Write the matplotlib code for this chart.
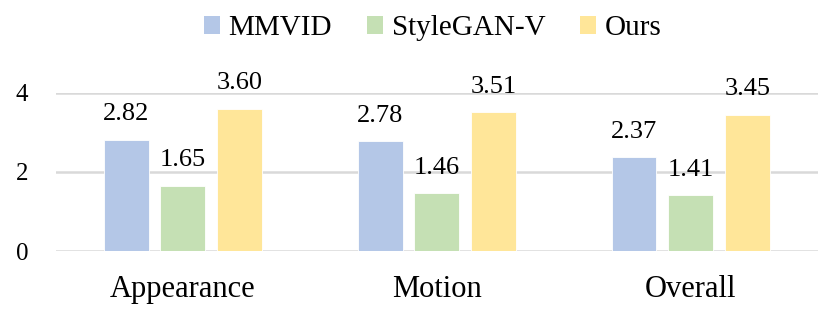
import matplotlib

matplotlib.use("Agg")
import matplotlib.pyplot as plt
import numpy as np
from matplotlib.patches import Patch

CATEGORIES = ["Appearance", "Motion", "Overall"]
SERIES = ["MMVID", "StyleGAN-V", "Ours"]
MMVID = [2.82, 2.78, 2.37]
STYLEGAN_V = [1.65, 1.46, 1.41]
OURS = [3.60, 3.51, 3.45]
YTICKS = [0, 2, 4]

COLOURS = ["#B4C7E7", "#C5E0B4", "#FFE699"]

plt.rcParams.update({
    "font.family": ["Liberation Serif", "DejaVu Serif"],
    "mathtext.fontset": "stix",
})

fig = plt.figure(figsize=(8.32, 3.13), dpi=100)
ax = fig.add_axes([0.0673, 0.198, 0.9157, 0.505])

x = np.arange(len(CATEGORIES))
width = 0.177
step = 0.224
for i, (vals, col) in enumerate(zip([MMVID, STYLEGAN_V, OURS], COLOURS)):
    pos = x + (i - 1) * step
    ax.bar(pos, vals, width=width, color=col, edgecolor="white", lw=0.6, zorder=3)
    for px, v in zip(pos, vals):
        ax.annotate(f"{v:.2f}", (px, v), xytext=(0, 14), textcoords="offset points",
                    ha="center", va="baseline", fontsize=19, annotation_clip=False)

ax.set_xlim(-0.5, 2.5)
ax.set_ylim(0, 4)
ax.set_yticks(YTICKS)
ax.yaxis.grid(True, color="#D9D9D9", lw=1.8, zorder=0)
ax.set_axisbelow(True)
ax.set_xticks(x)
ax.set_xticklabels(CATEGORIES)
ax.tick_params(axis="x", length=0, pad=17, labelsize=22)
ax.tick_params(axis="y", length=0, pad=20, labelsize=18)
for s in ax.spines.values():
    s.set_visible(False)

handles = [Patch(facecolor=c, edgecolor="none") for c in COLOURS]
fig.legend(handles, SERIES, loc="center", bbox_to_anchor=(0.52, 0.91), ncol=3,
           frameon=False, fontsize=21, handlelength=0.55, handleheight=0.55,
           handletextpad=0.3, columnspacing=1.2)

fig.savefig("out.png", dpi=100)
